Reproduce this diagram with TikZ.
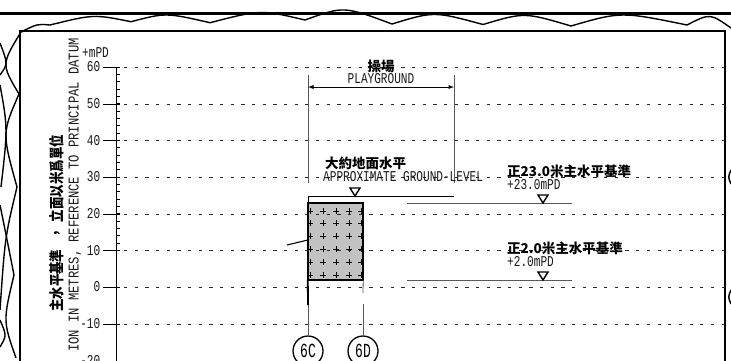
\documentclass[tikz,border=0pt]{standalone}
\usepackage{fontspec}
\usetikzlibrary{shapes,arrows,fit,positioning}
\newfontfamily\cadfont[FakeStretch=0.74]{Liberation Mono}
\newfontfamily\cadwide[FakeStretch=0.81]{Liberation Mono}
\newfontfamily\cadball[FakeStretch=0.65]{Liberation Mono}
\newfontfamily\cjkfont{Noto Sans CJK TC}
\newfontfamily\cjkside[FakeStretch=0.83]{Noto Sans CJK TC}
\definecolor{wallgray}{rgb}{.76,.76,.76}
\definecolor{dimgray}{rgb}{.35,.35,.35}
\def\LevelMark#1#2{\draw[levelmark] (#1-5,#2-8)--(#1+5,#2-8)--(#1,#2)--cycle;}

\begin{document}
\begin{tikzpicture}[x=1pt,y=-1pt,% pixel coordinates of the sheet
		every node/.style={inner sep=0pt},
		cadtext/.style={font=\cadfont\fontsize{15}{16}\selectfont,text=black!90},
		sidetext/.style={font=\cadwide\fontsize{15}{16}\selectfont,text=black!90,rotate=90},
		cjktext/.style={font=\cjkfont\bfseries\fontsize{13.5}{15}\selectfont},
		frameline/.style={draw=black,line width=2pt},
		cloudline/.style={draw=black,line width=1.4pt},
		gridline/.style={draw=black!85,line width=.8pt,dash pattern=on 3.2pt off 7.47pt},
		dimline/.style={draw=dimgray,line width=.8pt},
		levelmark/.style={draw=black,line width=1.4pt},
		gridball/.style={circle,draw=black,line width=1.3pt,minimum size=30pt,font=\cadball\fontsize{20}{20}\selectfont}
	]
	\clip (0,0) rectangle (731,360);
	\fill[white] (0,0) rectangle (731,360);

	% revision cloud
	\draw[cloudline] (21,32) .. controls (37.5,23.8) .. (50,25) .. controls (93.8,14.2) .. (131,21.7)
		.. controls (165.8,12.6) .. (210,22.7) .. controls (260.8,9.6) .. (305,20)
		.. controls (343.8,6) .. (392,24) .. controls (434,11.2) .. (483,24.5)
		.. controls (524.3,12.2) .. (571,26) .. controls (621,11.5) .. (687,25)
		.. controls (710,13.2) .. (731,28);
	\draw[cloudline] (21,32) .. controls (1.3,64.3) .. (19,94) .. controls (2,133) .. (17,187)
		.. controls (5,237) .. (0,310);
	\draw[cloudline] (0,43) .. controls (8,64) .. (0,75);
	\draw[cloudline] (0,85) .. controls (7.8,128) .. (1,187);
	\draw[cloudline] (0,205) .. controls (5.7,233) .. (14,275) .. controls (3,321) .. (16,358);
	\draw[cloudline] (0,320) .. controls (6.7,335.5) .. (0,347);
	\draw[cloudline] (731,170) .. controls (728,177) .. (731,184);
	\draw[cloudline] (731,290) .. controls (728,297) .. (731,304);

	% sheet frame
	\draw[draw=black,line width=2.4pt] (0,13.5)--(731,13.5);
	\draw[frameline] (20,362)--(20,30.5)--(725,30.5)--(725,362);

	% wall section
	\node[rectangle,fill=wallgray,minimum width=55pt,minimum height=77pt](wall) at (335.5,241.5){};
	\foreach \px in {310,323,336,349,361}
		\foreach \py in {211,223,236,249,262,275}
			\draw[black,line width=.8pt] (\px-3,\py)--(\px+3,\py) (\px,\py-3)--(\px,\py+3);
	\draw[black,line width=2pt] (wall.south west) rectangle (wall.north east);

	% level grid and scale
	\foreach \lvl/\ypos in {60/67,50/104,40/140.5,30/177,20/214,10/250.5,0/287,-10/324,-20/361}{
		\draw[black,line width=1pt] (103,\ypos)--(120,\ypos);
		\draw[gridline] (124,\ypos)--(725,\ypos);
		\node[cadtext,anchor=east] at (100.5,\ypos) {\lvl};
	}
	\draw[black,line width=1pt] (116,67)--(116,362);
	\foreach \step in {1,...,24}
		\draw[black,line width=.8pt] (116,67+\step*7.33)--(120,67+\step*7.33);
	\node[cadtext,anchor=west] at (82,53) {+mPD};
	\node[sidetext,anchor=east] at (75,38) {ION IN METRES,  REFERENCE TO PRINCIPAL DATUM};
	\node[font=\cjkside\bfseries\fontsize{15}{16}\selectfont,rotate=90,anchor=west] at (57,312) {主水平基準\hspace{10pt}，\hspace{5pt}立面以米爲單位};

	% playground dimension
	\coordinate (pgL) at (308,87);
	\coordinate (pgR) at (454,87);
	\draw[dimline] (308,75)--(308,183) (454,75)--(454,183);
	\draw[latex-latex,black,line width=.9pt] (pgL)--(pgR);
	\node[cjktext](pgCn) at (381,66) {操場};
	\node[cadtext](pgEn) at (381,79) {PLAYGROUND};

	% approximate ground level
	\node[cjktext,anchor=west](glCn) at (325,163) {大約地面水平};
	\node[cadtext,anchor=west](glEn) at (323,177) {APPROXIMATE GROUND-LEVEL};
	\LevelMark{355}{196}
	\draw[black,line width=.9pt] (308,203)--(308,196)--(454,196);
	\draw[black,line width=1.1pt] (287,245)--(wall.west|-0,240);

	% levels on the right
	\draw[dimline] (407,203)--(572,203) (407,280)--(572,280);
	\LevelMark{543}{203}
	\LevelMark{543}{280}
	\node[cjktext,anchor=west] at (507,171) {正23.0米主水平基準};
	\node[cadtext,anchor=west] at (507,185) {+23.0mPD};
	\node[cjktext,anchor=west] at (507,248) {正2.0米主水平基準};
	\node[cadtext,anchor=west] at (507,262) {+2.0mPD};

	% grid lines
	\node[gridball](G6C) at (308,351) {6C};
	\node[gridball](G6D) at (363,351) {6D};
	\draw[black,line width=1.8pt] (wall.south west)--(308,305);
	\draw[dimline] (308,305)--(G6C);
	\draw[dimline] (wall.south east)--(363,293);
	\draw[dimline] (363,304)--(G6D);
\end{tikzpicture}
\end{document}
